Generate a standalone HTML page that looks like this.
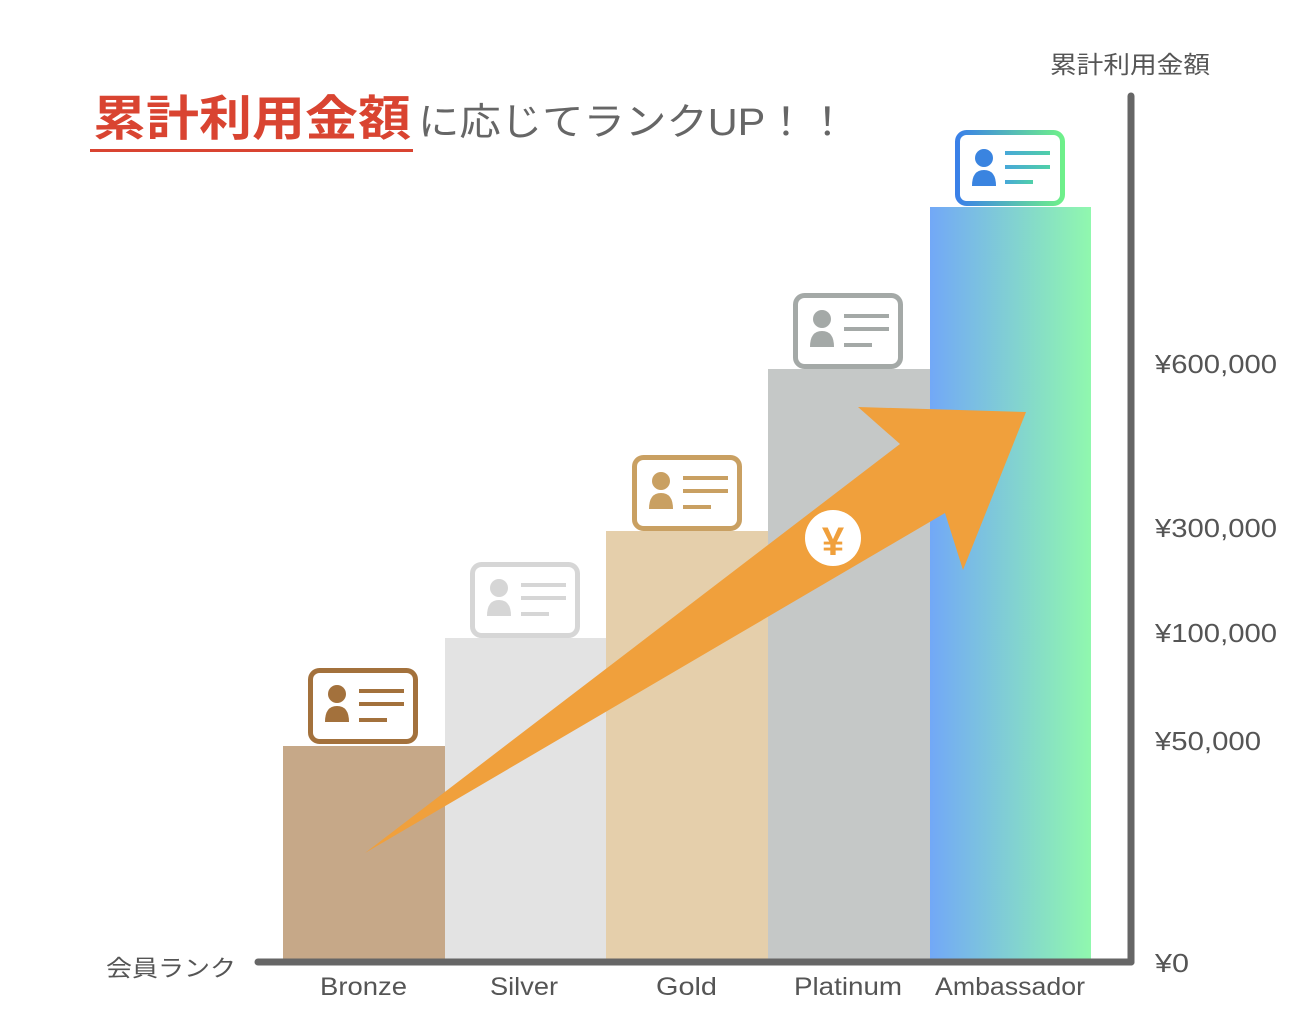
<!DOCTYPE html>
<html><head><meta charset="utf-8"><style>
html,body{margin:0;padding:0;background:#fff;}
svg{display:block;}
text{font-family:"Liberation Sans","Noto Sans CJK JP",sans-serif;}
</style></head><body>
<svg width="1314" height="1036" viewBox="0 0 1314 1036" xmlns="http://www.w3.org/2000/svg">
<defs>
<linearGradient id="amb" x1="0" x2="1" y1="0" y2="0"><stop offset="0" stop-color="#72a8f7"/><stop offset="1" stop-color="#90f8ae"/></linearGradient>
<linearGradient id="ambc" x1="0" x2="1" y1="0" y2="0"><stop offset="0" stop-color="#3a80e8"/><stop offset="1" stop-color="#6ef08a"/></linearGradient>
<linearGradient id="ambl" x1="0" x2="1" y1="0" y2="0"><stop offset="0" stop-color="#48a8d8"/><stop offset="1" stop-color="#50d0a8"/></linearGradient>
</defs>
<text x="93" y="135" font-size="48" fill="#d94431" font-weight="bold" textLength="318" lengthAdjust="spacingAndGlyphs">累計利用金額</text>
<rect x="90" y="149" width="323" height="3" fill="#d94431"/>
<text x="418" y="135" font-size="38" fill="#666" textLength="430" lengthAdjust="spacingAndGlyphs">に応じてランクUP！！</text>
<text x="1050" y="73" font-size="24" fill="#555" textLength="160" lengthAdjust="spacingAndGlyphs">累計利用金額</text>
<rect x="283" y="746" width="162" height="214" fill="#c6a888"/>
<rect x="445" y="638" width="161" height="322" fill="#e3e3e3"/>
<rect x="606" y="531" width="162" height="429" fill="#e5cfab"/>
<rect x="768" y="369" width="162" height="591" fill="#c5c8c7"/>
<rect x="930" y="207" width="161" height="753" fill="url(#amb)"/>
<g transform="translate(308,668)">
<rect x="2.5" y="2.5" width="105" height="71" rx="9" fill="#fff" stroke="#a3713c" stroke-width="5"/>
<circle cx="29" cy="26" r="9" fill="#a3713c"/><path d="M17 54 Q17 38 29 38 Q41 38 41 54 Z" fill="#a3713c"/>
<rect x="51" y="21" width="45" height="4" fill="#a3713c"/><rect x="51" y="34" width="45" height="4" fill="#a3713c"/><rect x="51" y="50" width="28" height="4" fill="#a3713c"/>
</g>
<g transform="translate(470,562)">
<rect x="2.5" y="2.5" width="105" height="71" rx="9" fill="#fff" stroke="#d6d6d6" stroke-width="5"/>
<circle cx="29" cy="26" r="9" fill="#d6d6d6"/><path d="M17 54 Q17 38 29 38 Q41 38 41 54 Z" fill="#d6d6d6"/>
<rect x="51" y="21" width="45" height="4" fill="#d6d6d6"/><rect x="51" y="34" width="45" height="4" fill="#d6d6d6"/><rect x="51" y="50" width="28" height="4" fill="#d6d6d6"/>
</g>
<g transform="translate(632,455)">
<rect x="2.5" y="2.5" width="105" height="71" rx="9" fill="#fff" stroke="#c9a062" stroke-width="5"/>
<circle cx="29" cy="26" r="9" fill="#c9a062"/><path d="M17 54 Q17 38 29 38 Q41 38 41 54 Z" fill="#c9a062"/>
<rect x="51" y="21" width="45" height="4" fill="#c9a062"/><rect x="51" y="34" width="45" height="4" fill="#c9a062"/><rect x="51" y="50" width="28" height="4" fill="#c9a062"/>
</g>
<g transform="translate(793,293)">
<rect x="2.5" y="2.5" width="105" height="71" rx="9" fill="#fff" stroke="#a4a9a7" stroke-width="5"/>
<circle cx="29" cy="26" r="9" fill="#a4a9a7"/><path d="M17 54 Q17 38 29 38 Q41 38 41 54 Z" fill="#a4a9a7"/>
<rect x="51" y="21" width="45" height="4" fill="#a4a9a7"/><rect x="51" y="34" width="45" height="4" fill="#a4a9a7"/><rect x="51" y="50" width="28" height="4" fill="#a4a9a7"/>
</g>
<g transform="translate(955,130)">
<rect x="2.5" y="2.5" width="105" height="71" rx="9" fill="#fff" stroke="url(#ambc)" stroke-width="5"/>
<circle cx="29" cy="28" r="9" fill="#3a84e0"/><path d="M17 56 Q17 40 29 40 Q41 40 41 56 Z" fill="#3a84e0"/>
<rect x="50" y="21" width="45" height="4" fill="url(#ambl)"/><rect x="50" y="35" width="45" height="4" fill="url(#ambl)"/><rect x="50" y="50" width="28" height="4" fill="url(#ambl)"/>
</g>
<polygon points="365,853 900,444 858,407 1026,412 963,570 945,513" fill="#f0a03c"/>
<circle cx="833" cy="538" r="28" fill="#fff"/>
<text x="833" y="555" font-size="40" font-weight="bold" fill="#f0a03c" text-anchor="middle">¥</text>
<line x1="1131" y1="96" x2="1131" y2="962" stroke="#666" stroke-width="7" stroke-linecap="round"/>
<line x1="258" y1="962" x2="1131" y2="962" stroke="#666" stroke-width="7" stroke-linecap="round"/>
<g font-size="26" fill="#555">
<text x="1155" y="373" textLength="122" lengthAdjust="spacingAndGlyphs">¥600,000</text>
<text x="1155" y="537" textLength="122" lengthAdjust="spacingAndGlyphs">¥300,000</text>
<text x="1155" y="642" textLength="122" lengthAdjust="spacingAndGlyphs">¥100,000</text>
<text x="1155" y="750" textLength="106" lengthAdjust="spacingAndGlyphs">¥50,000</text>
<text x="1155" y="972" textLength="34" lengthAdjust="spacingAndGlyphs">¥0</text>
</g>
<text x="106" y="976" font-size="23" fill="#555" textLength="130" lengthAdjust="spacingAndGlyphs">会員ランク</text>
<g font-size="25" fill="#555">
<text x="320" y="995" textLength="87" lengthAdjust="spacingAndGlyphs">Bronze</text>
<text x="490" y="995" textLength="68" lengthAdjust="spacingAndGlyphs">Silver</text>
<text x="656" y="995" textLength="61" lengthAdjust="spacingAndGlyphs">Gold</text>
<text x="794" y="995" textLength="108" lengthAdjust="spacingAndGlyphs">Platinum</text>
<text x="935" y="995" textLength="150" lengthAdjust="spacingAndGlyphs">Ambassador</text>
</g>
</svg>
</body></html>
